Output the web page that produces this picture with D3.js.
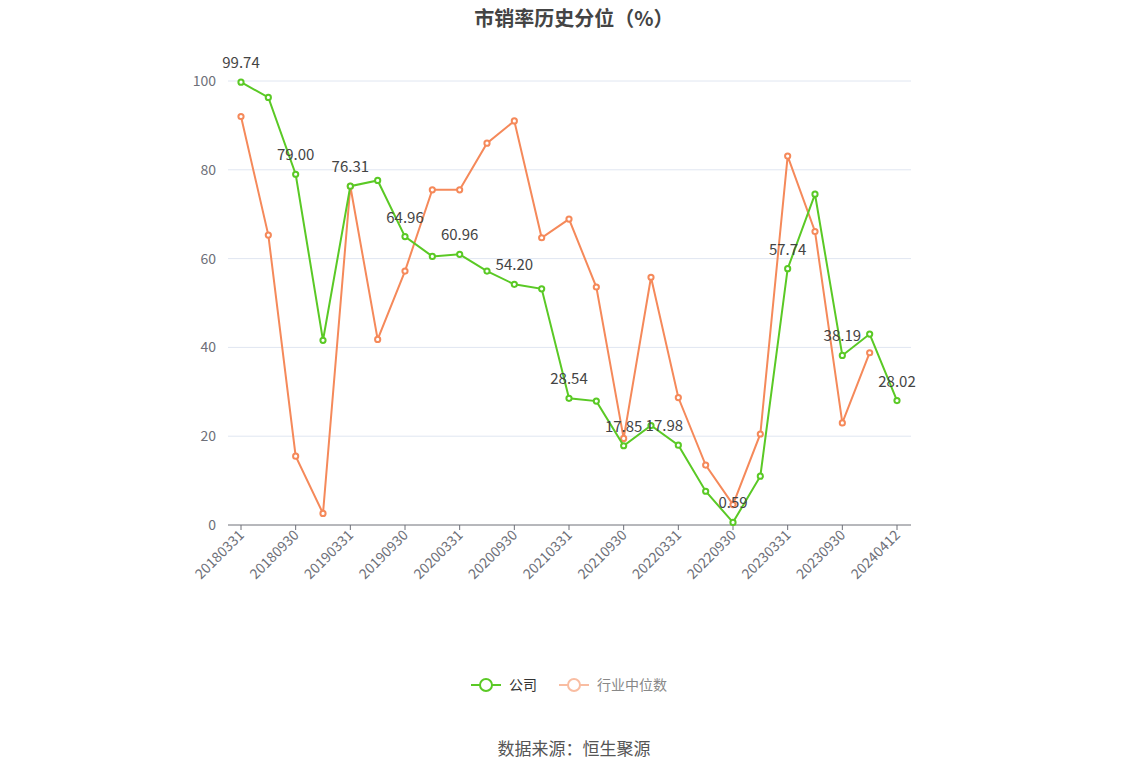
<!DOCTYPE html>
<html><head><meta charset="utf-8">
<script src="https://cdn.jsdelivr.net/npm/d3@7"></script>
<style>body{margin:0;background:#fff;font-family:"Noto Sans CJK SC","Noto Sans",sans-serif}</style>
</head><body><svg width="1148" height="776"></svg>
<script>
// categories and values
const dates = ['20180331','20180630','20180930','20181231','20190331','20190630','20190930','20191231',
  '20200331','20200630','20200930','20201231','20210331','20210630','20210930','20211231',
  '20220331','20220630','20220930','20221231','20230331','20230630','20230930','20231231','20240412'];
const company = [99.74,96.3,79.00,41.6,76.31,77.6,64.96,60.5,60.96,57.2,54.20,53.2,28.54,27.9,17.85,22.4,
  17.98,7.6,0.59,11.0,57.74,74.5,38.19,43.0,28.02];
const industry = [92.0,65.3,15.5,2.6,76.3,41.8,57.2,75.5,75.5,86.0,91.0,64.7,68.9,53.6,19.5,55.8,
  28.7,13.5,4.6,20.5,83.1,66.1,23.0,38.8,null];
const yTicks = [0,20,40,60,80,100];

const svg = d3.select('svg');
const x = d3.scalePoint().domain(dates).range([241,897]);
const y = d3.scaleLinear().domain([0,100]).range([525,81]);

svg.append('text').attr('x',574).attr('y',26).attr('text-anchor','middle')
  .attr('font-size',20).attr('font-weight','bold').attr('fill','#444').text('市销率历史分位（%）');

// grid
svg.selectAll('.grid').data(yTicks.slice(1)).enter().append('line')
  .attr('x1',228).attr('x2',911).attr('y1',d=>y(d)).attr('y2',d=>y(d))
  .attr('stroke','#e0e6f1');
svg.selectAll('.yl').data(yTicks).enter().append('text')
  .attr('x',216).attr('y',d=>y(d)+5).attr('text-anchor','end')
  .attr('font-size',14).attr('fill','#6e7079').text(d=>d);

// x axis
svg.append('line').attr('x1',228).attr('x2',911).attr('y1',525).attr('y2',525).attr('stroke','#6e7079');
svg.selectAll('.tk').data(dates.filter((d,i)=>i%2==0)).enter().append('line')
  .attr('x1',d=>x(d)).attr('x2',d=>x(d)).attr('y1',525).attr('y2',530).attr('stroke','#6e7079');
svg.selectAll('.xl').data(dates.filter((d,i)=>i%2==0)).enter().append('text')
  .attr('transform',d=>`translate(${x(d)+4},${536}) rotate(-45)`).attr('text-anchor','end')
  .attr('font-size',14).attr('fill','#6e7079').text(d=>d);

function series(vals,color){
  const pts = dates.map((d,i)=>[d,vals[i]]).filter(p=>p[1]!=null);
  svg.append('path').datum(pts)
    .attr('d',d3.line().x(p=>x(p[0])).y(p=>y(p[1])))
    .attr('fill','none').attr('stroke',color).attr('stroke-width',2);
  svg.selectAll(null).data(pts).enter().append('circle')
    .attr('cx',p=>x(p[0])).attr('cy',p=>y(p[1])).attr('r',2.6)
    .attr('fill','#fff').attr('stroke',color).attr('stroke-width',2);
}
series(industry,'#f5895a');
series(company,'#5ac925');

const labelIdx = [0,2,4,6,8,10,12,14,16,18,20,22,24];
svg.selectAll('.lab').data(labelIdx).enter().append('text')
  .attr('x',i=>x(dates[i])+(i==16?-14:0)).attr('y',i=>y(company[i])-14)
  .attr('text-anchor','middle').attr('font-size',15).attr('fill','#444')
  .text(i=>company[i].toFixed(2));

// legend
const lg = svg.append('g');
lg.append('line').attr('x1',471).attr('x2',501).attr('y1',685).attr('y2',685).attr('stroke','#5ac925').attr('stroke-width',2);
lg.append('circle').attr('cx',486).attr('cy',685).attr('r',6).attr('fill','#fff').attr('stroke','#5ac925').attr('stroke-width',2);
lg.append('text').attr('x',509).attr('y',690).attr('font-size',14).attr('fill','#333').text('公司');
lg.append('line').attr('x1',559).attr('x2',589).attr('y1',685).attr('y2',685).attr('stroke','#f9bda2').attr('stroke-width',2);
lg.append('circle').attr('cx',574).attr('cy',685).attr('r',6).attr('fill','#fff').attr('stroke','#f9bda2').attr('stroke-width',2);
lg.append('text').attr('x',597).attr('y',690).attr('font-size',14).attr('fill','#888').text('行业中位数');

svg.append('text').attr('x',574).attr('y',755).attr('text-anchor','middle')
  .attr('font-size',17).attr('fill','#555').text('数据来源：恒生聚源');
</script></body></html>
